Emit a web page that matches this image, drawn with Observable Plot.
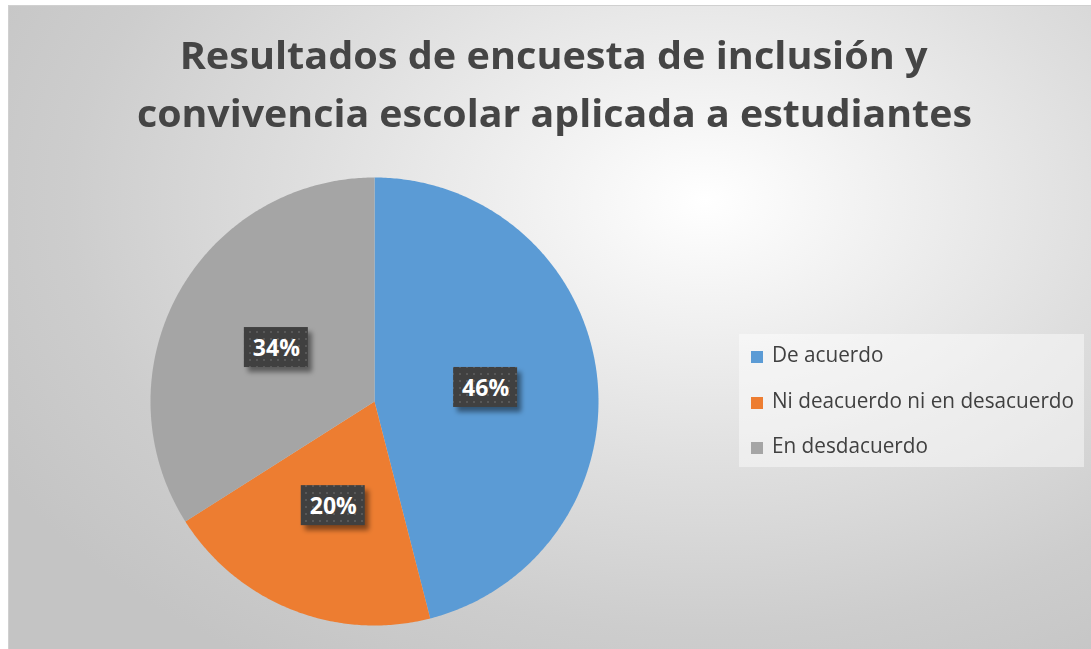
<!DOCTYPE html>
<html>
<head>
<meta charset="utf-8">
<script src="https://cdn.jsdelivr.net/npm/d3@7"></script>
<script src="https://cdn.jsdelivr.net/npm/@observablehq/plot@0.6"></script>
<style>
  html, body { margin: 0; padding: 0; background: #ffffff; }
  body { width: 1091px; height: 649px; position: relative; overflow: hidden; font-family: "Open Sans", "DejaVu Sans", sans-serif; }
  #chart {
    position: absolute; left: 8px; top: 5px; width: 1090px; height: 650px;
    border: 1px solid #d0d0d0; box-sizing: border-box;
    background: radial-gradient(ellipse 75% 85% at 64% 30%, #ffffff 0%, #f3f3f3 18%, #dedede 50%, #cdcdcd 78%, #c4c4c4 100%);
  }
  .tline { position: absolute; left: 0; width: 1090px; text-align: center; font-weight: 700; font-size: 38px; line-height: 1; color: #454545; white-space: nowrap; }
  .tline span { display: inline-block; transform-origin: 50% 50%; }
  #legend { position: absolute; left: 730px; top: 328px; width: 345px; height: 133px; background: rgba(255,255,255,0.45); }
  .litem { position: absolute; left: 12px; height: 24px; white-space: nowrap; }
  .lsw { position: absolute; left: 0; top: 6px; width: 12px; height: 12px; }
  .ltxt { position: absolute; left: 21px; top: -3px; font-size: 22px; line-height: 1; color: #404040; transform-origin: 0 50%; display: inline-block; }
  #plot { position: absolute; left: 0; top: 155px; }
</style>
</head>
<body>
<svg width="0" height="0" style="position:absolute">
  <defs>
    <pattern id="dots" width="7" height="7" patternUnits="userSpaceOnUse">
      <rect width="7" height="7" fill="#404040"></rect>
      <rect x="2" y="2" width="2" height="2" fill="#585858"></rect>
    </pattern>
    <filter id="blur" x="-30%" y="-30%" width="160%" height="160%">
      <feGaussianBlur stdDeviation="2.5"></feGaussianBlur>
    </filter>
  </defs>
</svg>
<div id="chart">
  <div class="tline" id="t1" style="top:29px"><span>Resultados de encuesta de inclusión y</span></div>
  <div class="tline" id="t2" style="top:87px"><span>convivencia escolar aplicada a estudiantes</span></div>
  <div id="plot"></div>
  <div id="legend"></div>
</div>
<script>
// ---- data ----
const categories = ["De acuerdo", "Ni deacuerdo ni en desacuerdo", "En desdacuerdo"];
const values = [46, 20, 34];
const labels = ["46%", "20%", "34%"];
const colors = ["#5B9BD5", "#ED7D31", "#A5A5A5"];

// ---- title fitting (match reference line widths) ----
const cnv = document.createElement("canvas").getContext("2d");
function fit(span, font, target) {
  cnv.font = font;
  const w = cnv.measureText(span.textContent).width;
  span.style.transform = `scaleX(${target / w})`;
}
fit(document.querySelector("#t1 span"), "700 38px 'Open Sans'", 748);
fit(document.querySelector("#t2 span"), "700 38px 'Open Sans'", 835);

// ---- pie geometry from data ----
const arcs = d3.pie().sort(null)(values);
const pts = [];
arcs.forEach((a, i) => {
  const cat = categories[i];
  pts.push({cat, x: 0, y: 0});
  const n = Math.max(2, Math.ceil((a.endAngle - a.startAngle) / 0.01));
  for (let k = 0; k <= n; k++) {
    const t = a.startAngle + (a.endAngle - a.startAngle) * k / n;
    pts.push({cat, x: Math.sin(t), y: Math.cos(t)});
  }
  pts.push({cat, x: 0, y: 0});
});
const labelPos = arcs.map((a, i) => {
  const m = (a.startAngle + a.endAngle) / 2;
  const r = 0.5;
  return {label: labels[i], x: r * Math.sin(m), y: r * Math.cos(m)};
});
const R = 224; // pixel radius
const bw = 32 / R, bh = 20 / R;

const plot = Plot.plot({
  width: 730,
  height: 480,
  marginLeft: 141,
  marginRight: 141,
  marginTop: 16,
  marginBottom: 16,
  x: {domain: [-1, 1], axis: null},
  y: {domain: [-1, 1], axis: null},
  color: {domain: categories, range: colors},
  style: {background: "transparent", overflow: "visible"},
  marks: [
    Plot.line(pts, {x: "x", y: "y", z: "cat", fill: "cat", stroke: "none", curve: "linear"}),
    Plot.rect(labelPos, {x1: d => d.x - bw, x2: d => d.x + bw, y1: d => d.y - bh, y2: d => d.y + bh, fill: "#000", fillOpacity: 0.45, dx: 4, dy: 5}),
    Plot.rect(labelPos, {x1: d => d.x - bw, x2: d => d.x + bw, y1: d => d.y - bh, y2: d => d.y + bh, fill: "url(#dots)"}),
    Plot.text(labelPos, {x: "x", y: "y", text: "label", fill: "white", fontSize: 23, fontWeight: 700, fontFamily: "Open Sans", dy: 1})
  ]
});
document.getElementById("plot").appendChild(plot);
const rectGroups = plot.querySelectorAll('g[aria-label="rect"]');
if (rectGroups.length) rectGroups[0].setAttribute("filter", "url(#blur)");

// ---- legend ----
const legend = document.getElementById("legend");
const itemTops = [11, 57, 102];
cnv.font = "400 22px 'Open Sans'";
const wide = cnv.measureText(categories[1]).width;
const sx = 302 / wide;
categories.forEach((c, i) => {
  const it = document.createElement("div");
  it.className = "litem";
  it.style.top = itemTops[i] + "px";
  const sw = document.createElement("div");
  sw.className = "lsw";
  sw.style.background = colors[i];
  const tx = document.createElement("span");
  tx.className = "ltxt";
  tx.textContent = c;
  tx.style.transform = `scaleX(${sx})`;
  it.appendChild(sw);
  it.appendChild(tx);
  legend.appendChild(it);
});
</script>
</body>
</html>
